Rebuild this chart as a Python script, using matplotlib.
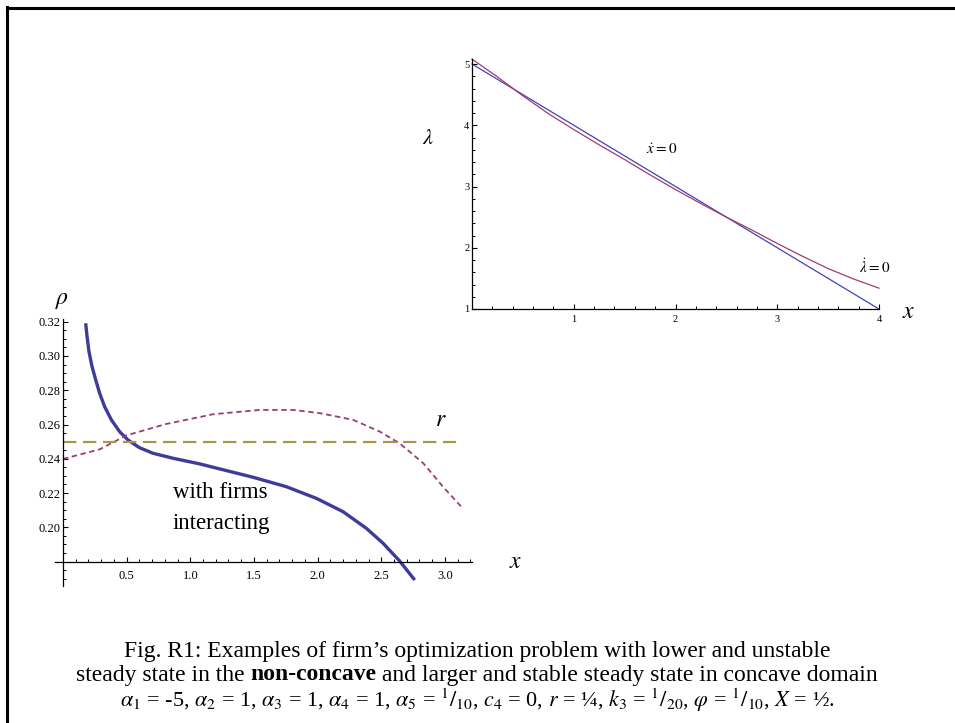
import matplotlib
matplotlib.use('Agg')
import matplotlib.pyplot as plt
from matplotlib.lines import Line2D
from matplotlib.ticker import FixedLocator, FuncFormatter

plt.rcParams['font.family'] = ['Liberation Serif', 'DejaVu Serif']
plt.rcParams['mathtext.fontset'] = 'stix'

# ---------------- data ----------------
# top chart: nullclines in (x, lambda)
xdot_x = [0.0, 4.0]
xdot_lam = [5.0, 1.0]
lamdot_x = [0.0, 0.25, 0.5, 0.75, 1.0, 1.25, 1.5, 1.75, 2.0, 2.25, 2.5, 2.75, 3.0, 3.25, 3.5, 3.75, 4.0]
lamdot_lam = [5.08, 4.79, 4.48, 4.19, 3.93, 3.68, 3.44, 3.19, 2.95, 2.72, 2.50, 2.29, 2.07, 1.86, 1.66, 1.49, 1.34]
top_xticks = [1, 2, 3, 4]
top_yticks = [1, 2, 3, 4, 5]

# bottom chart: rho(x)
rho_x = [0.178, 0.189, 0.204, 0.228, 0.257, 0.288, 0.327, 0.38, 0.445, 0.51, 0.60, 0.707,
         0.864, 1.074, 1.283, 1.493, 1.754, 1.99, 2.20, 2.383, 2.514, 2.645, 2.763]
rho_y = [0.3191, 0.3113, 0.3025, 0.2938, 0.2860, 0.2782, 0.2704, 0.2627, 0.2558, 0.2510,
         0.2465, 0.2432, 0.2403, 0.2370, 0.2331, 0.2292, 0.2237, 0.2169, 0.2091, 0.1994,
         0.1907, 0.1803, 0.1692]
concave_x = [0.0, 0.288, 0.5, 0.81, 1.18, 1.545, 1.81, 2.02, 2.28, 2.49, 2.645, 2.83, 2.985, 3.14]
concave_y = [0.2399, 0.2455, 0.2537, 0.2603, 0.2660, 0.2685, 0.2685, 0.2666, 0.2627, 0.2558,
             0.2490, 0.2374, 0.2237, 0.2111]
r_x = [0.0, 3.09]
r_y = [0.25, 0.25]
bot_xticks = [0.5, 1.0, 1.5, 2.0, 2.5, 3.0]
bot_yticks = [0.20, 0.22, 0.24, 0.26, 0.28, 0.30, 0.32]

caption1 = "Fig. R1: Examples of firm\u2019s optimization problem with lower and unstable"
caption2 = ["steady state in the ", "non-concave", " and larger and stable steady state in concave domain"]
caption3 = (r"$\alpha_1$ = -5, $\alpha_2$ = 1, $\alpha_3$ = 1, $\alpha_4$ = 1, "
            r"$\alpha_5$ = $^1/_{10}$, $c_4$ = 0, $r$ = ¼, $k_3$ = $^1/_{20}$, "
            r"$\varphi$ = $^1/_{10}$, $X$ = ½.")

# ---------------- figure ----------------
W, H = 955, 723
fig = plt.figure(figsize=(W / 100, H / 100), dpi=100)


def px_axes(x0, y0, x1, y1):
    return fig.add_axes([x0 / W, 1 - y1 / H, (x1 - x0) / W, (y1 - y0) / H])


def ftext(x, y, s, **kw):
    return fig.text(x / W, 1 - y / H, s, **kw)


# frame
fig.add_artist(Line2D([7 / W, 1.0], [1 - 8 / H, 1 - 8 / H], color='black', lw=2.2, transform=fig.transFigure))
fig.add_artist(Line2D([7 / W, 7 / W], [1 - 7 / H, 0.0], color='black', lw=2.2, transform=fig.transFigure))

# ---- top chart ----
ax1 = px_axes(472, 59.1, 879, 309)
ax1.set_xlim(0, 4)
ax1.set_ylim(1, 5.08)
ax1.plot(xdot_x, xdot_lam, color='#4242b8', lw=0.9, clip_on=False)
ax1.plot(lamdot_x, lamdot_lam, color='#a33c6c', lw=0.9, clip_on=False)
for s in ['top', 'right']:
    ax1.spines[s].set_visible(False)
for s in ['left', 'bottom']:
    ax1.spines[s].set_linewidth(0.9)
ax1.xaxis.set_major_locator(FixedLocator(top_xticks))
ax1.yaxis.set_major_locator(FixedLocator(top_yticks))
ax1.xaxis.set_minor_locator(FixedLocator([i * 0.2 for i in range(1, 20) if i % 5 != 0]))
ax1.yaxis.set_minor_locator(FixedLocator([1 + i * 0.2 for i in range(1, 21) if i % 5 != 0]))
ax1.tick_params(which='major', direction='in', length=3.5, width=0.8, labelsize=7.5, pad=4)
ax1.tick_params(which='minor', direction='in', length=2.2, width=0.7)
ax1.tick_params(axis='y', which='major', pad=2)

ftext(662, 150, r"$\dot{x}=0$", fontsize=11, ha='center', va='center')
ftext(875, 267, r"$\dot{\lambda}=0$", fontsize=11, ha='center', va='center')
ftext(428, 140, r"$\lambda$", fontsize=16, ha='center', va='center')
ftext(909, 313, r"$x$", fontsize=17, ha='center', va='center')

# ---- bottom chart ----
ax2 = px_axes(55, 319, 471.6, 585.5)
ax2.set_xlim(-0.063, 3.21)
ax2.set_ylim(0.166, 0.3216)
ax2.plot(rho_x, rho_y, color='#3d3d99', lw=2.4, clip_on=False, solid_capstyle='butt')
ax2.plot(concave_x, concave_y, color='#993d74', lw=1.3, dashes=(3, 2), clip_on=False)
ax2.plot(r_x, r_y, color='#a8964a', lw=1.6, dashes=(6, 3), clip_on=False)
for s in ['top', 'right']:
    ax2.spines[s].set_visible(False)
ax2.spines['left'].set_position(('data', 0))
ax2.spines['bottom'].set_position(('data', 0.18))
for s in ['left', 'bottom']:
    ax2.spines[s].set_linewidth(0.9)
ax2.xaxis.set_major_locator(FixedLocator(bot_xticks))
ax2.yaxis.set_major_locator(FixedLocator(bot_yticks))
ax2.xaxis.set_minor_locator(FixedLocator([i * 0.1 for i in range(1, 33) if i % 5 != 0]))
ax2.yaxis.set_minor_locator(FixedLocator([0.17 + i * 0.005 for i in range(0, 31) if i % 4 != 2]))
ax2.xaxis.set_major_formatter(FuncFormatter(lambda v, p: f"{v:.1f}"))
ax2.yaxis.set_major_formatter(FuncFormatter(lambda v, p: f"{v:.2f}"))
ax2.tick_params(which='major', direction='in', length=3.5, width=0.8, labelsize=9, pad=6)
ax2.tick_params(which='minor', direction='in', length=2.2, width=0.7)
ax2.tick_params(axis='y', which='major', pad=2)

ftext(62, 300, r"$\rho$", fontsize=17, ha='center', va='center')
ftext(441, 420, r"$r$", fontsize=17, ha='center', va='center')
ftext(516, 563, r"$x$", fontsize=17, ha='center', va='center')
ftext(173, 493, "with firms", fontsize=16.5, ha='left', va='center')
ftext(173, 523, "interacting", fontsize=16.5, ha='left', va='center')

# ---- caption ----
cap_fs = 17.0
ftext(477, 651, caption1, fontsize=cap_fs, ha='center', va='center')
ftext(477, 700, caption3, fontsize=16.0, ha='center', va='center')

fig.canvas.draw()
renderer = fig.canvas.get_renderer()
pieces = []
total = 0
for i, s in enumerate(caption2):
    t = ftext(0, 675, s, fontsize=cap_fs, ha='left', va='center',
              fontweight='bold' if i == 1 else 'normal')
    w = t.get_window_extent(renderer).width
    pieces.append((t, w))
    total += w
x = 477 - total / 2
for t, w in pieces:
    t.set_x(x / W)
    x += w

fig.savefig('out.png', dpi=100)
